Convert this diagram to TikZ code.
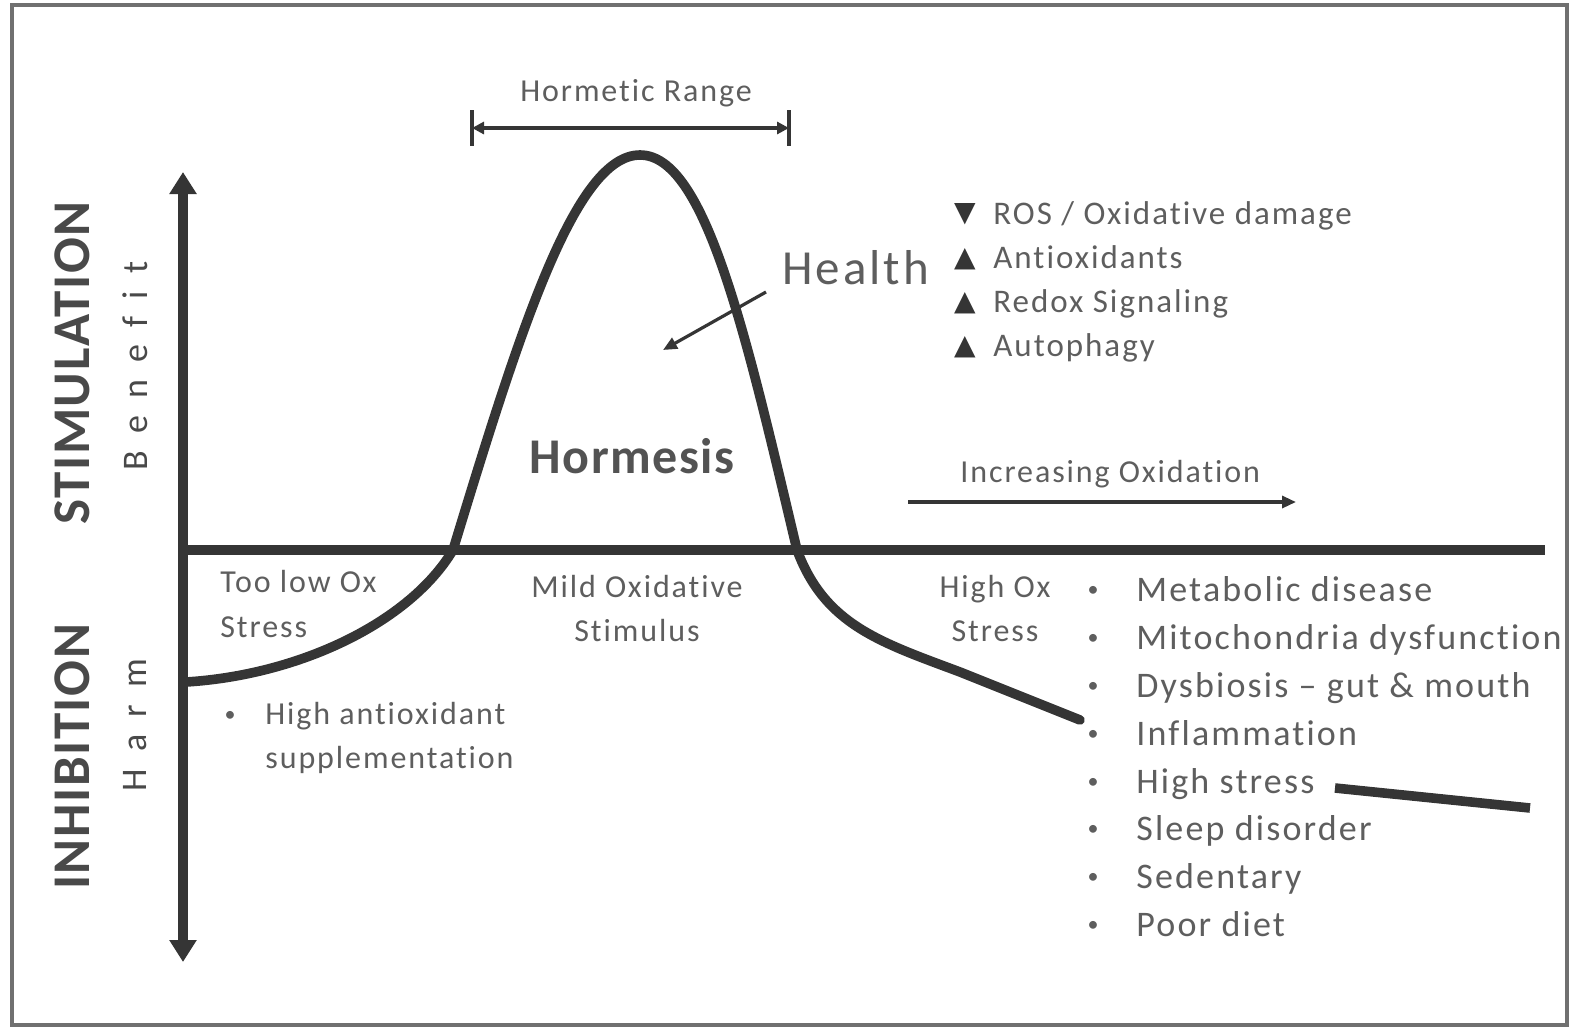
\documentclass[tikz,border=0pt]{standalone}
\usepackage{fontspec}
\setmainfont[LetterSpace=6, Ligatures=NoCommon]{Carlito}
\newfontfamily\spacedfont[LetterSpace=48, Ligatures=NoCommon]{Carlito}
\newfontfamily\boldfont[LetterSpace=3, Ligatures=NoCommon]{Carlito Bold}
\newfontfamily\symfont{DejaVu Sans}
\usetikzlibrary{arrows.meta}
\definecolor{txtgray}{HTML}{5E5E5E}
\definecolor{linecol}{HTML}{353535}
\definecolor{framecol}{HTML}{707070}
\begin{document}
\begin{tikzpicture}[x=0.5pt,y=-0.5pt,
  txt/.style={text=txtgray, inner sep=0pt, font=\fontsize{16}{18}\selectfont},
  listtxt/.style={text=txtgray, inner sep=0pt, font=\fontsize{18}{21}\selectfont},
  rostxt/.style={text=txtgray, inner sep=0pt, font=\fontsize{16.5}{19}\selectfont},
  bul/.style={text=txtgray, inner sep=0pt, font=\fontsize{11}{12}\selectfont},
  tri/.style={text=linecol, inner sep=0pt, font=\symfont\fontsize{14}{15}\selectfont},
  axlabel/.style={text=linecol!90, inner sep=0pt, rotate=90, font=\boldfont\fontsize{26.5}{30}\selectfont},
  sublabel/.style={text=linecol!90, inner sep=0pt, rotate=90, font=\spacedfont\fontsize{18}{20}\selectfont},
  thick line/.style={draw=linecol, line width=4.8pt},
  thin arrow/.style={draw=linecol, line width=1.6pt, -{Triangle[length=7pt,width=6pt]}},
]
\useasboundingbox (0,0) rectangle (1570,1030);
% frame
\draw[framecol, line width=1.6pt] (12,5) rectangle (1567,1025);

% vertical axis
\coordinate (axtop) at (183,172);
\coordinate (axbot) at (183,962);
\draw[thick line, {Triangle[length=11pt,width=13pt]}-{Triangle[length=11pt,width=13pt]}] (axtop) -- (axbot);
% baseline
\coordinate (b0) at (183,550);
\coordinate (b1) at (1545,550);
\draw[thick line] (b0) -- (b1);

% response curve
\draw[thick line, line cap=round]
  (186,682) .. controls (300,675) and (410,622) .. (453,550)
  .. controls (520,330) and (575,155) .. (640,155)
  .. controls (705,155) and (745,330) .. (797,550)
  .. controls (825,625) and (880,642) .. (960,672)
  -- (1080,720);
\draw[thick line] (1335,788) -- (1530,808);

% hormetic range
\coordinate (hr0) at (472,128);
\coordinate (hr1) at (789,128);
\draw[linecol, line width=2.2pt] (472,110) -- (472,146);
\draw[linecol, line width=2.2pt] (789,110) -- (789,146);
\draw[linecol, line width=1.8pt, {Triangle[length=6pt,width=6pt]}-{Triangle[length=6pt,width=6pt]}] (hr0) -- (hr1);
\node[txt, anchor=base] (hrlabel) at (636,101) {Hormetic Range};

% Health
\node[text=txtgray, inner sep=0pt, anchor=base west, font=\fontsize{24.5}{29}\selectfont] (health) at (782,284) {Health};
\coordinate (healthfrom) at (766,292);
\coordinate (healthto) at (663,350);
\draw[thin arrow] (healthfrom) -- (healthto);

% Hormesis
\node[text=linecol!85, inner sep=0pt, anchor=base, font=\boldfont\fontsize{25}{28}\selectfont] (hormesis) at (632,473) {Hormesis};

% ROS list
\node[tri] (t1) at (965,214) {▼};
\node[tri] (t2) at (965,259) {▲};
\node[tri] (t3) at (965,303) {▲};
\node[tri] (t4) at (965,347) {▲};
\node[rostxt, anchor=base west] (r1) at (993,224) {ROS / Oxidative damage};
\node[rostxt, anchor=base west] (r2) at (993,268) {Antioxidants};
\node[rostxt, anchor=base west] (r3) at (993,312) {Redox Signaling};
\node[rostxt, anchor=base west] (r4) at (993,356) {Autophagy};

% Increasing oxidation
\node[txt, anchor=base west] (incox) at (960,482) {Increasing Oxidation};
\coordinate (io0) at (908,502);
\coordinate (io1) at (1296,502);
\draw[thin arrow] (io0) -- (io1);

% zone labels
\node[txt, anchor=base west] (tl1) at (220,592) {Too low Ox};
\node[txt, anchor=base west] (tl2) at (220,637) {Stress};
\node[txt, anchor=base] (mo1) at (637,597) {Mild Oxidative};
\node[txt, anchor=base] (mo2) at (637,641) {Stimulus};
\node[txt, anchor=base] (ho1) at (995,597) {High Ox};
\node[txt, anchor=base] (ho2) at (995,641) {Stress};

% left bullet
\node[bul] (lb) at (230,716) {•};
\node[txt, anchor=base west] (la1) at (265,724) {High antioxidant};
\node[txt, anchor=base west] (la2) at (265,768) {supplementation};

% right bullet list
\foreach \y/\t [count=\i] in {601/Metabolic disease, 649/Mitochondria dysfunction, 697/Dysbiosis -- gut \& mouth, 745/Inflammation, 793/High stress, 840/Sleep disorder, 888/Sedentary, 936/Poor diet}{
  \node[bul] (rb\i) at (1093,\y-10) {•};
  \node[listtxt, anchor=base west] (rl\i) at (1136,\y) {\t};
}

% axis labels
\node[axlabel] (stim) at (72,363) {STIMULATION};
\node[axlabel] (inhib) at (72,757) {INHIBITION};
\node[sublabel] (benefit) at (135,366) {Benefit};
\node[sublabel] (harm) at (135,725) {Harm};
\end{tikzpicture}
\end{document}
